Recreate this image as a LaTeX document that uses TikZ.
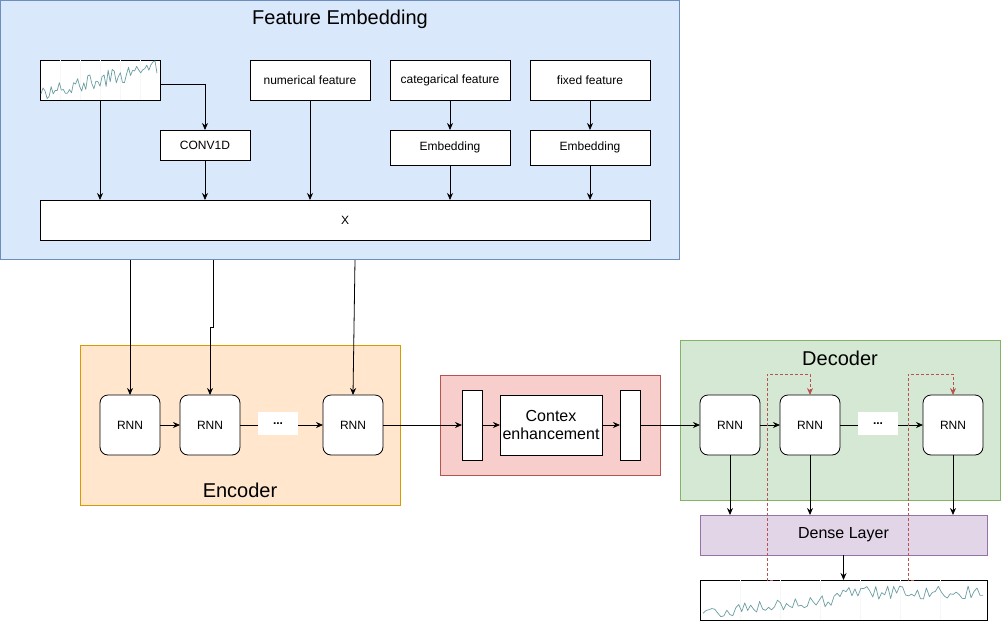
\documentclass[tikz,border=0pt]{standalone}
\usepackage{fontspec}
\setmainfont{Liberation Sans}
\usetikzlibrary{arrows.meta,calc}
\definecolor{feFill}{HTML}{DAE8FC}\definecolor{feLine}{HTML}{6C8EBF}
\definecolor{enFill}{HTML}{FFE6CC}\definecolor{enLine}{HTML}{D79B00}
\definecolor{cxFill}{HTML}{F8CECC}\definecolor{cxLine}{HTML}{B85450}
\definecolor{deFill}{HTML}{D5E8D4}\definecolor{deLine}{HTML}{82B366}
\definecolor{dnFill}{HTML}{E1D5E7}\definecolor{dnLine}{HTML}{9673A6}
\definecolor{sigCol}{HTML}{6A9EA3}
\tikzset{
  every node/.style={inner sep=0pt, outer sep=0pt},
  region/.style={draw, line width=0.8pt, font=\fontsize{20}{24}\selectfont},
  wbox/.style={draw=black, fill=white, line width=0.8pt, font=\fontsize{12}{14}\selectfont, align=center},
  rnnbox/.style={wbox, rounded corners=8pt, minimum width=60pt, minimum height=60pt},
  dotsbox/.style={fill=white, minimum width=40pt, minimum height=23pt, font=\fontsize{12}{14}\selectfont\bfseries},
  arr/.style={draw=black, line width=0.8pt, -{Stealth[length=7pt,width=6pt]}},
  redarr/.style={draw=cxLine, line width=0.8pt, dashed, dash pattern=on 3pt off 2pt, -{Stealth[length=7pt,width=6pt]}},
  sigline/.style={draw=sigCol, line width=0.7pt, line join=round},
}
\begin{document}
\begin{tikzpicture}[x=1pt,y=-1pt]
\useasboundingbox (0,0) rectangle (1002,622);
% regions
\node[region, draw=feLine, fill=feFill, minimum width=679pt, minimum height=259pt] (fe) at (340,130) {};
\node[font=\fontsize{20}{24}\selectfont] (feT) at (340,19) {Feature Embedding};
\node[region, draw=enLine, fill=enFill, minimum width=320pt, minimum height=160pt] (enc) at (240,425) {};
\node[font=\fontsize{20}{24}\selectfont] (encT) at (240,490) {Encoder};
\node[region, draw=cxLine, fill=cxFill, minimum width=220pt, minimum height=100pt] (ctx) at (550,425) {};
\node[region, draw=deLine, fill=deFill, minimum width=320pt, minimum height=160pt] (dec) at (840,420) {};
\node[font=\fontsize{20}{24}\selectfont] (decT) at (840,358) {Decoder};
% feature embedding content
\node[wbox, minimum width=120pt, minimum height=40pt] (sig1) at (100,80) {};
\begin{scope}
\clip (sig1.south west) rectangle (sig1.north east);
\foreach \gx in {60,80,100,120,140} \draw[black!3, line width=0.4pt] (\gx,60) -- (\gx,100);
\pgfmathsetseed{7}
\draw[sigline] plot[domain=41:157, samples=58] (\x, {92 - 24*(\x-41)/116 + 8*rand});
\end{scope}
\node[wbox, minimum width=90pt, minimum height=30pt] (conv) at (205,145) {CONV1D};
\node[wbox, minimum width=120pt, minimum height=40pt] (num) at (310,80) {numerical feature};
\node[wbox, minimum width=120pt, minimum height=40pt] (cat) at (450,80) {categarical feature};
\node[wbox, minimum width=120pt, minimum height=40pt] (fix) at (590,80) {fixed feature};
\node[wbox, minimum width=120pt, minimum height=35pt] (emb1) at (450,147.5) {Embedding};
\node[wbox, minimum width=120pt, minimum height=35pt] (emb2) at (590,147.5) {Embedding};
\node[wbox, minimum width=610pt, minimum height=40pt] (X) at (345,220) {X};
\coordinate (sigOut) at (160,84);
\draw[arr] (sig1.south) -- (sig1.south |- X.north);
\draw[arr] (sigOut) -| (conv.north);
\draw[arr] (conv.south) -- (conv.south |- X.north);
\draw[arr] (num.south) -- (num.south |- X.north);
\draw[arr] (cat.south) -- (emb1.north);
\draw[arr] (emb1.south) -- (emb1.south |- X.north);
\draw[arr] (fix.south) -- (emb2.north);
\draw[arr] (emb2.south) -- (emb2.south |- X.north);
% encoder
\node[rnnbox] (rA) at (130,425) {RNN};
\node[rnnbox] (rB) at (210,425) {RNN};
\node[rnnbox] (rC) at (353,425) {RNN};
\coordinate (fe1) at (130,260);
\coordinate (fe2) at (213,260);
\coordinate (fe3) at (355,260);
\draw[arr] (fe1) -- (rA.north);
\draw[arr] (fe2) -- (213,327) -- (210,327) -- (rB.north);
\draw[arr] (fe3) -- (rC.north);
\draw[arr] (rA) -- (rB);
\draw[arr] (rB) -- (rC);
\node[dotsbox] (dA) at (278,423.5) {...};
% context
\node[wbox, minimum width=20pt, minimum height=70pt] (bL) at (472,425) {};
\node[wbox, minimum width=102pt, minimum height=60pt, font=\fontsize{16}{18}\selectfont] (ce) at (551,425) {Contex\\enhancement};
\node[wbox, minimum width=20pt, minimum height=70pt] (bR) at (630,425) {};
\draw[arr] (rC) -- (bL);
\draw[arr] (bL) -- (ce);
\draw[arr] (ce) -- (bR);
% decoder
\node[rnnbox] (rD) at (730,425) {RNN};
\node[rnnbox] (rE) at (810,425) {RNN};
\node[rnnbox] (rF) at (953,425) {RNN};
\draw[arr] (bR) -- (rD);
\draw[arr] (rD) -- (rE);
\draw[arr] (rE) -- (rF);
\node[dotsbox] (dB) at (878,423.5) {...};
\node[draw=dnLine, fill=dnFill, line width=0.8pt, minimum width=287pt, minimum height=40pt, font=\fontsize{16}{18}\selectfont] (dense) at (843.5,535) {Dense Layer};
\node[wbox, minimum width=287pt, minimum height=40pt] (sig2) at (843.5,600) {};
\begin{scope}
\clip (sig2.south west) rectangle (sig2.north east);
\foreach \gx in {740,780,820,860,900,940} \draw[black!3, line width=0.4pt] (\gx,580) -- (\gx,620);
\pgfmathsetseed{11}
\draw[sigline] plot[domain=703:983, samples=95] (\x, {613 - 14*min((\x-703)/140,1) - 6*(\x>842) + 7*rand});
\end{scope}
\draw[arr] (rD.south) -- (rD.south |- dense.north);
\draw[arr] (rE.south) -- (rE.south |- dense.north);
\draw[arr] (rF.south) -- (rF.south |- dense.north);
\draw[arr] (dense.south) -- (dense.south |- sig2.north);
\coordinate (fb1) at (773,580);
\coordinate (fb2) at (914,580);
\draw[redarr] (fb1) -- (767,580) -- (767,374) -| (rE.north);
\draw[redarr] (fb2) -- (908,580) -- (908,374) -| (rF.north);
\end{tikzpicture}
\end{document}
